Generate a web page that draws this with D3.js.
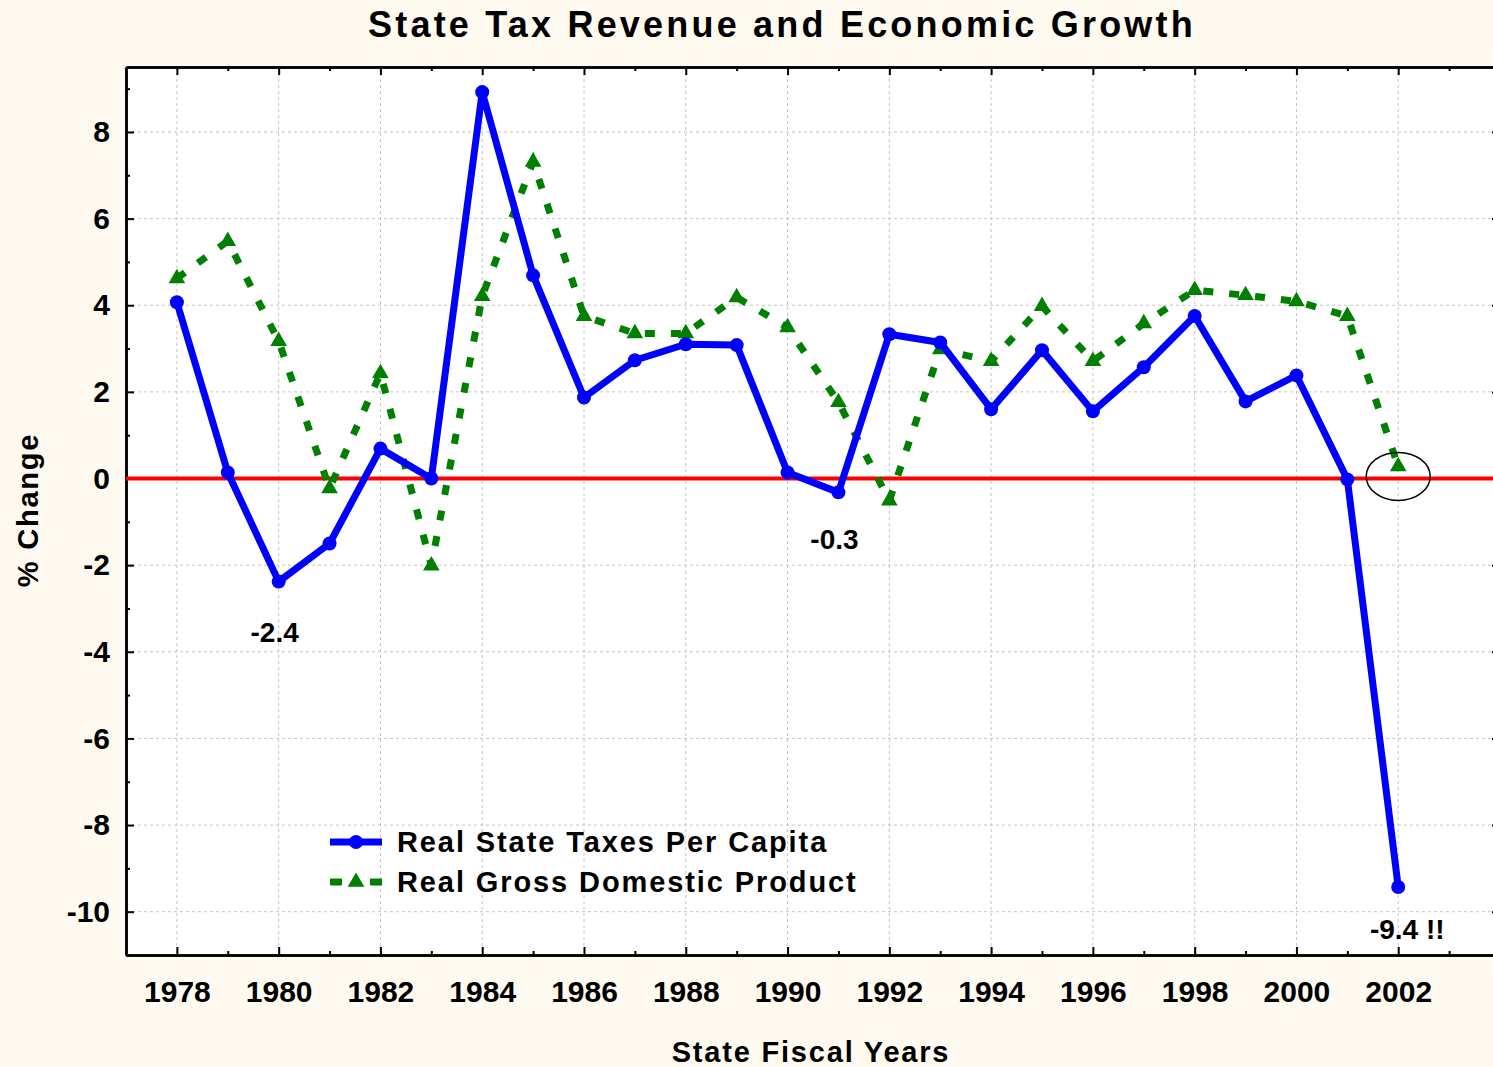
<!DOCTYPE html>
<html>
<head>
<meta charset="utf-8">
<script src="https://cdn.jsdelivr.net/npm/d3@7"></script>
<style>
  html, body { margin: 0; padding: 0; background: #fffaef; }
  svg { display: block; font-family: "Liberation Sans", Arial, sans-serif; }
</style>
</head>
<body>
<div id="chart"></div>
<script>
// chart data
const years = d3.range(1978, 2003);
const taxValues = [4.07, 0.14, -2.38, -1.50, 0.69, 0.0, 8.92, 4.69, 1.87, 2.73, 3.10, 3.08,
  0.14, -0.32, 3.33, 3.14, 1.60, 2.96, 1.55, 2.57, 3.75, 1.78, 2.38, -0.02, -9.43];
const gdpValues = [4.62, 5.48, 3.17, -0.23, 2.43, -2.01, 4.21, 7.31, 3.75, 3.35, 3.35, 4.18,
  3.49, 1.76, -0.51, 2.98, 2.71, 3.98, 2.71, 3.58, 4.35, 4.23, 4.09, 3.75, 0.28];
const xTicks = d3.range(1978, 2003, 2);
const yTicks = [-10, -8, -6, -4, -2, 0, 2, 4, 6, 8];
const seriesNames = ["Real State Taxes Per Capita", "Real Gross Domestic Product"];
const notes = [
  { year: 1980, value: -2.38, text: "-2.4" },
  { year: 1991, value: -0.32, text: "-0.3" },
  { year: 2002, value: -9.43, text: "-9.4 !!" }
];

(() => {
  const width = 1493, height = 1067;
  const margin = { top: 67, left: 126 };
  const plotRight = 1500, plotBottom = 955;

  const svg = d3.select("#chart").append("svg")
    .attr("width", width)
    .attr("height", height);

  const x = d3.scaleLinear().domain([1977, 2004]).range([margin.left, plotRight]);
  const y = d3.scaleLinear().domain([-11, 9.5]).range([plotBottom, margin.top]);

  // plot background
  svg.append("rect")
    .attr("x", margin.left).attr("y", margin.top)
    .attr("width", plotRight - margin.left).attr("height", plotBottom - margin.top)
    .attr("fill", "#ffffff");

  // grid
  const grid = svg.append("g").attr("stroke", "#c6c6c6").attr("stroke-width", 1)
    .attr("stroke-dasharray", "3,3");
  grid.selectAll(".vx").data(xTicks).enter().append("line")
    .attr("x1", d => x(d)).attr("x2", d => x(d))
    .attr("y1", margin.top).attr("y2", plotBottom);
  grid.selectAll(".hy").data(yTicks).enter().append("line")
    .attr("x1", margin.left).attr("x2", plotRight)
    .attr("y1", d => y(d)).attr("y2", d => y(d));

  // axes (ticks point inward)
  const bold = sel => sel.selectAll("text")
    .attr("font-size", 30).attr("font-weight", "bold").attr("fill", "#000");

  const minorYears = d3.range(1979, 2004, 2);
  const minorY = d3.range(-11, 10, 2);

  function styleAxis(g) {
    g.select(".domain").attr("stroke", "#000").attr("stroke-width", 2.5);
    g.selectAll(".tick line").attr("stroke", "#000").attr("stroke-width", 2);
  }

  svg.append("g")
    .attr("transform", `translate(0,${plotBottom})`)
    .call(d3.axisBottom(x).tickValues(xTicks).tickFormat(d => String(d))
      .tickSizeInner(-8).tickSizeOuter(0).tickPadding(26))
    .call(styleAxis).call(bold);
  svg.append("g")
    .attr("transform", `translate(0,${plotBottom})`)
    .call(d3.axisBottom(x).tickValues(minorYears).tickFormat("").tickSizeInner(-4).tickSizeOuter(0))
    .call(styleAxis);

  svg.append("g")
    .attr("transform", `translate(0,${margin.top})`)
    .call(d3.axisTop(x).tickValues(xTicks).tickFormat("").tickSizeInner(-8).tickSizeOuter(0))
    .call(styleAxis);
  svg.append("g")
    .attr("transform", `translate(0,${margin.top})`)
    .call(d3.axisTop(x).tickValues(minorYears).tickFormat("").tickSizeInner(-4).tickSizeOuter(0))
    .call(styleAxis);

  svg.append("g")
    .attr("transform", `translate(${margin.left},0)`)
    .call(d3.axisLeft(y).tickValues(yTicks).tickFormat(d => String(d))
      .tickSizeInner(-8).tickSizeOuter(0).tickPadding(16))
    .call(styleAxis).call(bold);
  svg.append("g")
    .attr("transform", `translate(${margin.left},0)`)
    .call(d3.axisLeft(y).tickValues(minorY).tickFormat("").tickSizeInner(-4).tickSizeOuter(0))
    .call(styleAxis);

  svg.append("g")
    .attr("transform", `translate(${plotRight},0)`)
    .call(d3.axisRight(y).tickValues(yTicks).tickFormat("").tickSizeInner(-8).tickSizeOuter(0))
    .call(styleAxis);

  // zero line
  svg.append("line")
    .attr("x1", margin.left).attr("x2", plotRight)
    .attr("y1", y(0)).attr("y2", y(0))
    .attr("stroke", "#ff0000").attr("stroke-width", 4);

  const taxData = years.map((yr, i) => ({ year: yr, value: taxValues[i] }));
  const gdpData = years.map((yr, i) => ({ year: yr, value: gdpValues[i] }));

  const line = d3.line().x(d => x(d.year)).y(d => y(d.value));
  const tri = d3.symbol().type(d3.symbolTriangle).size(120);

  // GDP series
  svg.append("path")
    .datum(gdpData)
    .attr("d", line)
    .attr("fill", "none")
    .attr("stroke", "#008000")
    .attr("stroke-width", 7)
    .attr("stroke-dasharray", "10,16");
  svg.selectAll(".gdp-pt").data(gdpData).enter().append("path")
    .attr("transform", d => `translate(${x(d.year)},${y(d.value)})`)
    .attr("d", tri)
    .attr("fill", "#008000");

  // tax series
  svg.append("path")
    .datum(taxData)
    .attr("d", line)
    .attr("fill", "none")
    .attr("stroke", "#0000ff")
    .attr("stroke-width", 7)
    .attr("stroke-linejoin", "round");
  svg.selectAll(".tax-pt").data(taxData).enter().append("circle")
    .attr("cx", d => x(d.year)).attr("cy", d => y(d.value))
    .attr("r", 7)
    .attr("fill", "#0000ff");

  // ellipse around 2002 GDP
  svg.append("ellipse")
    .attr("cx", x(2002)).attr("cy", y(gdpValues[gdpValues.length - 1]) + 10)
    .attr("rx", 32).attr("ry", 24)
    .attr("fill", "none").attr("stroke", "#000").attr("stroke-width", 1.5);

  // annotations
  svg.selectAll(".note").data(notes).enter().append("text")
    .attr("x", d => x(d.year) + (d.year === 2002 ? 9 : -4))
    .attr("y", d => y(d.value) + (d.year === 2002 ? 52 : (d.year === 1980 ? 60 : 57)))
    .attr("text-anchor", "middle")
    .attr("font-size", 28).attr("font-weight", "bold")
    .text(d => d.text);

  // title and axis titles
  svg.append("text")
    .attr("x", 782).attr("y", 37)
    .attr("text-anchor", "middle")
    .attr("font-size", 36).attr("font-weight", "bold")
    .attr("letter-spacing", 3.2)
    .text("State Tax Revenue and Economic Growth");

  svg.append("text")
    .attr("transform", "translate(38,510) rotate(-90)")
    .attr("text-anchor", "middle")
    .attr("font-size", 29).attr("font-weight", "bold")
    .attr("letter-spacing", 1.8)
    .text("% Change");

  svg.append("text")
    .attr("x", 811).attr("y", 1062)
    .attr("text-anchor", "middle")
    .attr("font-size", 29).attr("font-weight", "bold")
    .attr("letter-spacing", 1.8)
    .text("State Fiscal Years");

  // legend
  const legend = svg.append("g").attr("transform", "translate(330,842)");
  const rows = legend.selectAll("g").data(seriesNames).enter().append("g")
    .attr("transform", (d, i) => `translate(0,${i * 40})`);
  rows.each(function (d, i) {
    const r = d3.select(this);
    if (i === 0) {
      r.append("line").attr("x1", 0).attr("x2", 52).attr("y1", 0).attr("y2", 0)
        .attr("stroke", "#0000ff").attr("stroke-width", 7);
      r.append("circle").attr("cx", 26).attr("cy", 0).attr("r", 7).attr("fill", "#0000ff");
    } else {
      r.append("line").attr("x1", 0).attr("x2", 52).attr("y1", 0).attr("y2", 0)
        .attr("stroke", "#008000").attr("stroke-width", 7)
        .attr("stroke-dasharray", "12,28");
      r.append("path").attr("transform", "translate(26,0)").attr("d", tri).attr("fill", "#008000");
    }
    r.append("text")
      .attr("x", 67).attr("y", 10)
      .attr("font-size", 29).attr("font-weight", "bold")
      .attr("letter-spacing", 1.9)
      .text(d);
  });
})();
</script>
</body>
</html>
